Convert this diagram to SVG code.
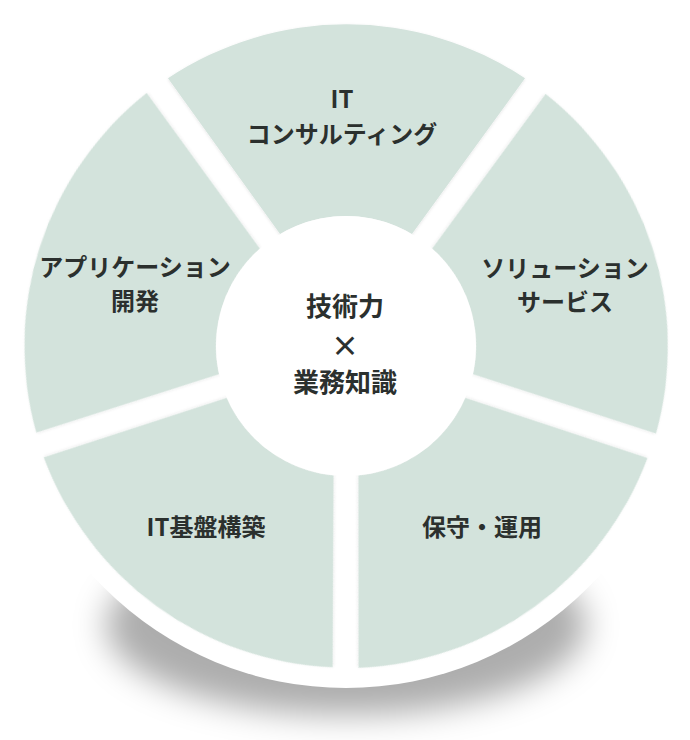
<svg xmlns="http://www.w3.org/2000/svg" xmlns:xlink="http://www.w3.org/1999/xlink" width="690" height="740" viewBox="0 0 690 740">
  <style>
    .wedge { fill: #d3e3dc; filter: url(#soft); }
    .lbl { font-family: "Noto Sans CJK JP", "Noto Sans", sans-serif; font-weight: 700; font-size: 24px; fill: #2b302e; text-anchor: middle; }
    .ctr { font-size: 26px; }
    .x { font-size: 28px; }
  </style>
  <defs>
    <filter id="blur" x="-30%" y="-50%" width="160%" height="200%">
      <feGaussianBlur stdDeviation="16"/>
    </filter>
    <filter id="soft" x="-10%" y="-10%" width="120%" height="120%">
      <feDropShadow dx="0" dy="1" stdDeviation="1.5" flood-color="#000" flood-opacity="0.1"/>
    </filter>
    <path id="wedge" d="M167.989,78.346 A322,322 0 0 1 525.011,78.346 L411.946,233.967 A130,130 0 0 0 280.054,233.967 Z"/>
  </defs>
  <rect width="690" height="740" fill="#ffffff"/>
  <g id="backdrop">
    <ellipse cx="346" cy="625" rx="240" ry="90" fill="#000000" fill-opacity="0.32" filter="url(#blur)"/>
    <circle cx="346" cy="346" r="342" fill="#ffffff"/>
  </g>
  <g id="connectors"></g>
  <g id="it-consulting">
    <use xlink:href="#wedge" href="#wedge" class="wedge"/>
    <text class="lbl" x="342" y="108">IT</text>
    <text class="lbl" x="342" y="143">コンサルティング</text>
  </g>
  <g id="solution-service">
    <use xlink:href="#wedge" href="#wedge" class="wedge" transform="rotate(72 346 346)"/>
    <text class="lbl" x="565" y="277">ソリューション</text>
    <text class="lbl" x="565" y="311">サービス</text>
  </g>
  <g id="maintenance">
    <use xlink:href="#wedge" href="#wedge" class="wedge" transform="rotate(144 346 346)"/>
    <text class="lbl" x="482" y="536">保守・運用</text>
  </g>
  <g id="it-infra">
    <use xlink:href="#wedge" href="#wedge" class="wedge" transform="rotate(216 346 346)"/>
    <text class="lbl" x="206" y="536">IT基盤構築</text>
  </g>
  <g id="app-dev">
    <use xlink:href="#wedge" href="#wedge" class="wedge" transform="rotate(288 346 346)"/>
    <text class="lbl" x="135" y="276">アプリケーション</text>
    <text class="lbl" x="135" y="310">開発</text>
  </g>
  <g id="center">
    <circle cx="346" cy="346" r="130" fill="#ffffff"/>
    <text class="lbl ctr" x="345" y="316">技術力</text>
    <text class="lbl x" x="345" y="357">×</text>
    <text class="lbl ctr" x="345" y="392">業務知識</text>
  </g>
</svg>
